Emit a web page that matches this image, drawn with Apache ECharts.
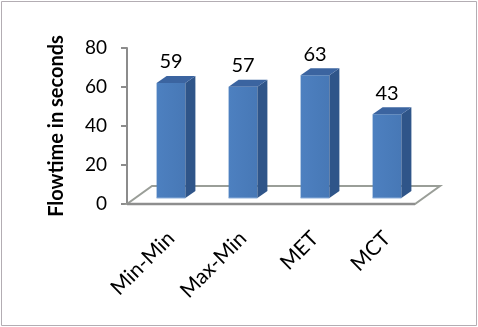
<!DOCTYPE html>
<html>
<head>
<meta charset="utf-8">
<script src="https://cdn.jsdelivr.net/npm/echarts@6/dist/echarts.min.js"></script>
<style>
html,body{margin:0;padding:0;background:#fff;}
#chart{width:478px;height:327px;}
</style>
</head>
<body>
<div id="chart"></div>
<script>
var categories = ['Min-Min', 'Max-Min', 'MET', 'MCT'];
var flowtime = [59, 57, 63, 43];
var yTicks = { min: 0, max: 80, interval: 20 };
var yTitle = 'Flowtime in seconds';

var FONT = 'Lato';
var chart = echarts.init(document.getElementById('chart'), null, { renderer: 'canvas' });

function floorItem(params, api) {
  var cs = params.coordSys;
  var fx0 = cs.x - 8, fx1 = cs.x + cs.width - 8, fy = cs.y + cs.height;
  var dx = 25, dy = -18;
  return {
    type: 'group',
    children: [
      { type: 'polygon', shape: { points: [[fx0, fy], [fx1, fy], [fx1 + dx, fy + dy], [fx0 + dx, fy + dy]] },
        style: { fill: '#ffffff', stroke: '#9a9e98', lineWidth: 2 } },
      { type: 'line', shape: { x1: fx0, y1: fy, x2: fx1, y2: fy }, style: { stroke: '#8e8e8e', lineWidth: 2.5 } }
    ]
  };
}

function barItem(params, api) {
  var idx = api.value(0), v = api.value(1);
  var top = api.coord([idx, v]);
  var base = api.coord([idx, 0]);
  var band = api.size([1, 0])[0];
  var w = band * 0.4;
  var lift = 6, dx = 10, dy = -7;
  var cx = top[0];
  var yT = top[1] - lift, yB = base[1] - lift;
  var l = cx - w / 2, r = cx + w / 2;
  return {
    type: 'group',
    children: [
      { type: 'rect', shape: { x: l, y: yT, width: w, height: yB - yT },
        style: { fill: new echarts.graphic.LinearGradient(0, 0, 1, 0, [{ offset: 0, color: '#4d80c0' }, { offset: 1, color: '#4778b6' }]) } },
      { type: 'line', shape: { x1: l, y1: yB, x2: r, y2: yB }, style: { stroke: '#8fb0da', lineWidth: 1 } },
      { type: 'polygon', shape: { points: [[r, yT], [r + dx, yT + dy], [r + dx, yB + dy], [r, yB]] },
        style: { fill: '#2f5589' } },
      { type: 'polygon', shape: { points: [[l, yT], [l + dx, yT + dy], [r + dx, yT + dy], [r, yT]] },
        style: { fill: '#3b64a0' } },
      { type: 'text', style: { x: cx, y: yT - 21, text: String(v), fill: '#000', font: '20px ' + FONT, align: 'center', verticalAlign: 'middle' } }
    ]
  };
}

var option = {
  animation: false,
  backgroundColor: '#ffffff',
  graphic: [
    { type: 'rect', shape: { x: 1.5, y: 1.5, width: 475, height: 324 }, style: { fill: 'none', stroke: '#b3adb3', lineWidth: 1 }, z: 0 }
  ],
  grid: { left: 135, top: 48, width: 288, height: 156 },
  xAxis: {
    type: 'category',
    data: categories,
    axisLine: { show: false },
    axisTick: { show: false },
    axisLabel: { rotate: 45, margin: 31, fontSize: 21, fontFamily: FONT, color: '#000', interval: 0 }
  },
  yAxis: {
    type: 'value',
    min: yTicks.min, max: yTicks.max, interval: yTicks.interval,
    offset: 8,
    name: yTitle,
    nameLocation: 'middle',
    nameRotate: 90,
    nameGap: 60,
    nameTextStyle: { fontSize: 20, fontWeight: 'bold', fontFamily: FONT, color: '#000' },
    axisLine: { show: true, lineStyle: { color: '#8c8c8c', width: 2 } },
    axisTick: { show: true, length: 6, lineStyle: { color: '#8c8c8c', width: 2 } },
    axisLabel: { margin: 20, fontSize: 19, fontFamily: FONT, color: '#000' },
    splitLine: { show: false }
  },
  series: [
    { type: 'custom', renderItem: floorItem, data: [[0, 0]], clip: false, z: 1, silent: true },
    { type: 'custom', renderItem: barItem, encode: { x: 0, y: 1 },
      data: flowtime.map(function (v, i) { return [i, v]; }), clip: false, z: 2 }
  ]
};
chart.setOption(option);
</script>
</body>
</html>
